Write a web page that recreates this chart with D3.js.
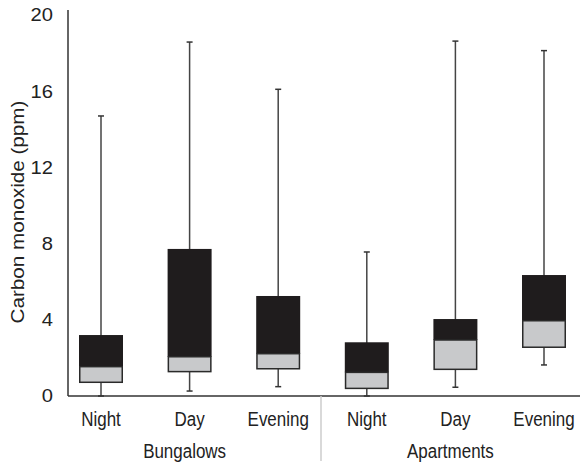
<!DOCTYPE html>
<html>
<head>
<meta charset="utf-8">
<script src="https://cdn.jsdelivr.net/npm/d3@7"></script>
<style>
  body { margin: 0; background: #fff; }
  text { font-family: "Liberation Sans", Arial, sans-serif; fill: #222; }
</style>
</head>
<body>
<svg id="chart" width="583" height="466"></svg>
<script>
// chart data
var groups = ["Bungalows", "Apartments"];
var periods = ["Night", "Day", "Evening"];
var minVals = [0, 0.26, 0.49, 0, 0.46, 1.63];
var q1Vals  = [0.72, 1.28, 1.43, 0.4, 1.4, 2.56];
var medVals = [1.54, 2.06, 2.22, 1.24, 2.94, 3.95];
var q3Vals  = [3.2, 7.72, 5.25, 2.82, 4.04, 6.35];
var maxVals = [14.7, 18.58, 16.1, 7.56, 18.63, 18.13];
var yTicks = [0, 4, 8, 12, 16, 20];

var boxes = [];
groups.forEach((g, gi) => {
	periods.forEach((p, pi) => {
		var i = gi * periods.length + pi;
		boxes.push({key: g + "-" + p, group: g, period: p,
			min: minVals[i], q1: q1Vals[i], med: medVals[i], q3: q3Vals[i], max: maxVals[i]});
	});
});

var svg = d3.select("#chart");
var axisX = 68, baseY = 396;

var y = d3.scaleLinear().domain([0, 20]).range([baseY, 15]);
var x = d3.scalePoint().domain(boxes.map(d => d.key)).range([101, 544]);
var boxW = 44, capW = 6;

// y axis line + labels (no tick marks)
svg.append("line")
   .attr("x1", axisX).attr("x2", axisX)
   .attr("y1", baseY).attr("y2", 10)
   .style("stroke", "#333").style("stroke-width", 1.5);

svg.selectAll(".ytick")
   .data(yTicks)
   .enter()
   .append("text")
   .attr("class", "ytick")
   .attr("transform", d => "translate(53," + y(d) + ") scale(1.12,1)")
   .attr("dy", "0.35em")
   .attr("text-anchor", "end")
   .style("font-size", "18px")
   .text(d => d);

svg.append("text")
   .attr("transform", "translate(24,212) rotate(-90) scale(1.15,1)")
   .attr("text-anchor", "middle")
   .style("font-size", "18px")
   .text("Carbon monoxide (ppm)");

// whiskers
var bx = svg.append("g").selectAll(".box")
   .data(boxes)
   .enter()
   .append("g")
   .attr("class", "box")
   .attr("transform", d => "translate(" + x(d.key) + ",0)");

bx.append("line")
  .attr("y1", d => y(d.min)).attr("y2", d => y(d.max))
  .style("stroke", "#444").style("stroke-width", 1.5);
bx.append("line")
  .attr("x1", -capW / 2).attr("x2", capW / 2)
  .attr("y1", d => y(d.max)).attr("y2", d => y(d.max))
  .style("stroke", "#333").style("stroke-width", 1.5);
bx.append("line")
  .attr("x1", -capW / 2).attr("x2", capW / 2)
  .attr("y1", d => y(d.min)).attr("y2", d => y(d.min))
  .style("stroke", "#333").style("stroke-width", 1.5);

// upper half (median -> q3) dark
bx.append("rect")
  .attr("x", -boxW / 2).attr("width", boxW)
  .attr("y", d => y(d.q3))
  .attr("height", d => y(d.med) - y(d.q3))
  .style("fill", "#1f1c1d");
// lower half (q1 -> median) light grey
bx.append("rect")
  .attr("x", -boxW / 2 + 0.75).attr("width", boxW - 1.5)
  .attr("y", d => y(d.med))
  .attr("height", d => y(d.q1) - y(d.med))
  .style("fill", "#c8c9cb")
  .style("stroke", "#2a2a2a").style("stroke-width", 1.5);

// x baseline
svg.append("line")
   .attr("x1", axisX).attr("x2", 580)
   .attr("y1", baseY).attr("y2", baseY)
   .style("stroke", "#333").style("stroke-width", 1.5);

// group separator
svg.append("line")
   .attr("x1", 321).attr("x2", 321)
   .attr("y1", baseY).attr("y2", 461)
   .style("stroke", "#ccc").style("stroke-width", 1.5);

// category labels (narrow, tall lettering as in the source)
svg.selectAll(".xlab")
   .data(boxes)
   .enter()
   .append("text")
   .attr("class", "xlab")
   .attr("transform", d => "translate(" + x(d.key) + ",426) scale(0.87,1)")
   .attr("text-anchor", "middle")
   .style("font-size", "19.5px")
   .text(d => d.period);

svg.selectAll(".glab")
   .data(groups)
   .enter()
   .append("text")
   .attr("class", "glab")
   .attr("transform", g => "translate(" + (x(g + "-Day") - 5) + ",458) scale(0.87,1)")
   .attr("text-anchor", "middle")
   .style("font-size", "19.5px")
   .text(g => g);
</script>
</body>
</html>
